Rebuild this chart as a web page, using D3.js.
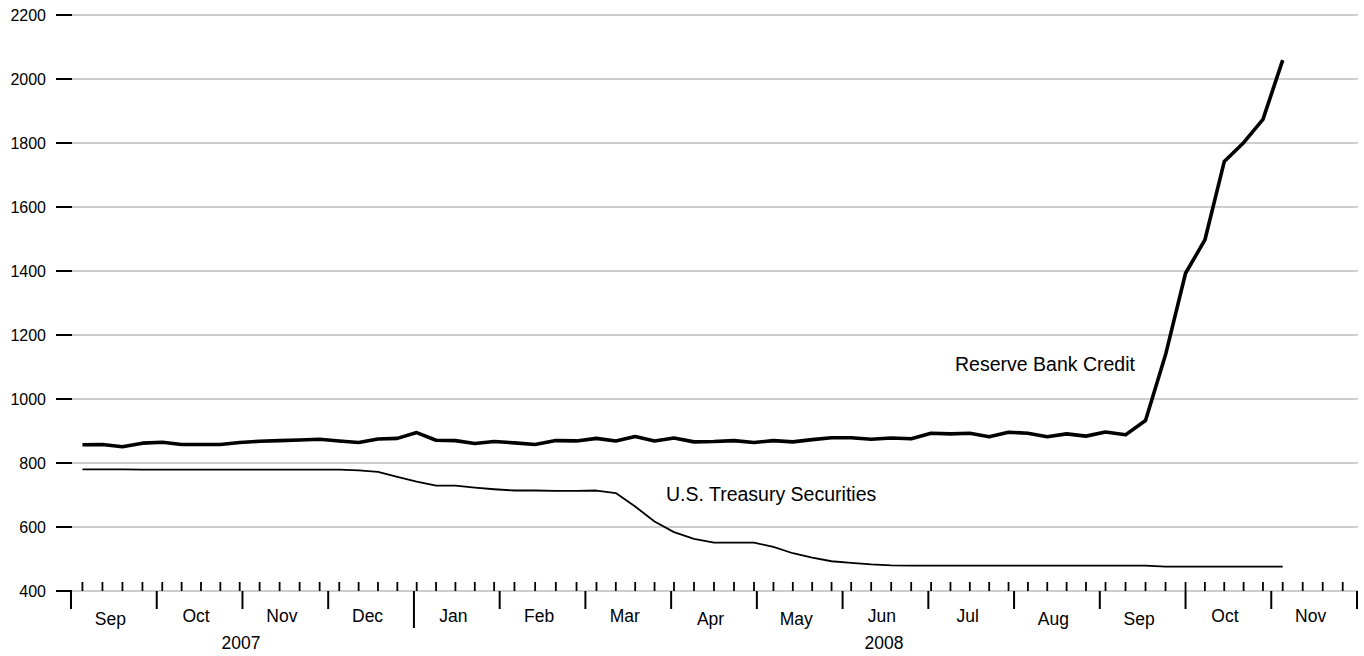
<!DOCTYPE html>
<html>
<head>
<meta charset="utf-8">
<script src="https://cdn.jsdelivr.net/npm/d3@7"></script>
<style>
  html, body { margin: 0; padding: 0; background: #fff; }
  svg { display: block; font-family: "Liberation Sans", Arial, Helvetica, sans-serif; }
</style>
</head>
<body>
<svg id="chart" width="1364" height="656"></svg>
<script>
// ---- data ----
const weeks = ["2007-09-05","2007-09-12","2007-09-19","2007-09-26","2007-10-03","2007-10-10","2007-10-17","2007-10-24","2007-10-31","2007-11-07","2007-11-14","2007-11-21","2007-11-28","2007-12-05","2007-12-12","2007-12-19","2007-12-26","2008-01-02","2008-01-09","2008-01-16","2008-01-23","2008-01-30","2008-02-06","2008-02-13","2008-02-20","2008-02-27","2008-03-05","2008-03-12","2008-03-19","2008-03-26","2008-04-02","2008-04-09","2008-04-16","2008-04-23","2008-04-30","2008-05-07","2008-05-14","2008-05-21","2008-05-28","2008-06-04","2008-06-11","2008-06-18","2008-06-25","2008-07-02","2008-07-09","2008-07-16","2008-07-23","2008-07-30","2008-08-06","2008-08-13","2008-08-20","2008-08-27","2008-09-03","2008-09-10","2008-09-17","2008-09-24","2008-10-01","2008-10-08","2008-10-15","2008-10-22","2008-10-29","2008-11-05"];

const reserveBankCredit = [857,858,851,862, 865,858,858,858,864, 868,870,872,874, 869,864,875,877,
  895,871,870,861,867, 863,858,870,869, 877,869,883,869, 878,866,867,870,864, 870,866,873,879,
  879,874,878,876, 893,891,893,882,896, 893,882,891,884, 897,888,933,1138, 1393,1497,1742,1801,1874, 2059];

const treasurySecurities = [780,780,780,779, 779,779,779,779,779, 779,779,779,779, 779,777,772,757,
  742,729,729,723,718, 714,714,713,713, 714,706,664,617, 584,563,551,551,551, 538,518,504,493,
  488,483,480,479, 479,479,479,479,479, 479,479,479,479, 479,479,479,476, 476,476,476,476,476, 476];

const monthLabels = ["Sep","Oct","Nov","Dec","Jan","Feb","Mar","Apr","May","Jun","Jul","Aug","Sep","Oct","Nov"];
const yearLabels = ["2007","2008"];
const yearMonthSpans = [[0,4],[4,15]];
const yTicks = [400,600,800,1000,1200,1400,1600,1800,2000,2200];
const seriesLabels = ["Reserve Bank Credit","U.S. Treasury Securities"];

// ---- scales ----
const svg = d3.select("#chart");
const x = d3.scaleLinear().domain([0, 15]).range([71, 1357]);
const y = d3.scaleLinear().domain([400, 2200]).range([591, 15]);

// month-position of a date: each month gets equal width
function mpos(d) {
  const idx = (d.getUTCFullYear() - 2007) * 12 + d.getUTCMonth() - 8;
  const dim = new Date(Date.UTC(d.getUTCFullYear(), d.getUTCMonth() + 1, 0)).getUTCDate();
  return idx + (d.getUTCDate() - 1) / dim;
}
const parse = d3.utcParse("%Y-%m-%d");
const dates = weeks.map(parse);

// ---- gridlines ----
svg.append("g").selectAll("line").data(yTicks).join("line")
  .attr("x1", 72).attr("x2", 1358)
  .attr("y1", d => y(d)).attr("y2", d => y(d))
  .attr("stroke", "#bdbdbd").attr("stroke-width", 1.6);

// ---- y axis ticks + labels ----
const yg = svg.append("g");
yg.selectAll("line").data(yTicks).join("line")
  .attr("x1", 56).attr("x2", 72)
  .attr("y1", d => y(d)).attr("y2", d => y(d))
  .attr("stroke", "#000").attr("stroke-width", 2);
yg.selectAll("text").data(yTicks).join("text")
  .attr("x", 46).attr("y", d => y(d)).attr("dy", "0.36em")
  .attr("text-anchor", "end").attr("font-size", 16).attr("fill", "#000")
  .text(d => d);

// ---- x axis: weekly ticks (up), month ticks (down), year tick ----
const wedTicks = d3.utcWednesday.range(new Date(Date.UTC(2007,8,1)), new Date(Date.UTC(2008,11,1)));
const xg = svg.append("g");
xg.selectAll("line.wk").data(wedTicks).join("line").attr("class","wk")
  .attr("x1", d => x(mpos(d))).attr("x2", d => x(mpos(d)))
  .attr("y1", y(400)).attr("y2", y(400) - 9)
  .attr("stroke", "#000").attr("stroke-width", 1.8);
const monthBounds = d3.range(0, 16);
xg.selectAll("line.mo").data(monthBounds).join("line").attr("class","mo")
  .attr("x1", d => x(d)).attr("x2", d => x(d))
  .attr("y1", y(400)).attr("y2", d => d === 4 ? y(400) + 37 : y(400) + 18)
  .attr("stroke", "#000").attr("stroke-width", 2);
xg.selectAll("text.mo").data(monthLabels).join("text").attr("class","mo")
  .attr("x", (d, i) => x(i + 0.5) - 3.5)
  .attr("y", d => /[pgyq]/.test(d) ? 624.5 : 622.3)
  .attr("text-anchor", "middle").attr("font-size", 17.5).attr("fill", "#000")
  .text(d => d);
xg.selectAll("text.yr").data(yearLabels).join("text").attr("class","yr")
  .attr("x", (d, i) => x((yearMonthSpans[i][0] + yearMonthSpans[i][1]) / 2) - 1.5)
  .attr("y", 649.3)
  .attr("text-anchor", "middle").attr("font-size", 17.5).attr("fill", "#000")
  .text(d => d);

// ---- lines ----
const line = d3.line()
  .x((d, i) => x(mpos(dates[i])))
  .y(d => y(d));
svg.append("path").datum(treasurySecurities)
  .attr("d", line).attr("fill", "none").attr("stroke", "#000")
  .attr("stroke-width", 1.8).attr("stroke-linejoin", "round");
svg.append("path").datum(reserveBankCredit)
  .attr("d", line).attr("fill", "none").attr("stroke", "#000")
  .attr("stroke-width", 3.6).attr("stroke-linejoin", "round");

// ---- annotations ----
svg.append("text").attr("x", 955).attr("y", 370.7)
  .attr("font-size", 19.5).attr("fill", "#000").text(seriesLabels[0]);
svg.append("text").attr("x", 666).attr("y", 500.7)
  .attr("font-size", 19.5).attr("fill", "#000").text(seriesLabels[1]);
</script>
</body>
</html>
